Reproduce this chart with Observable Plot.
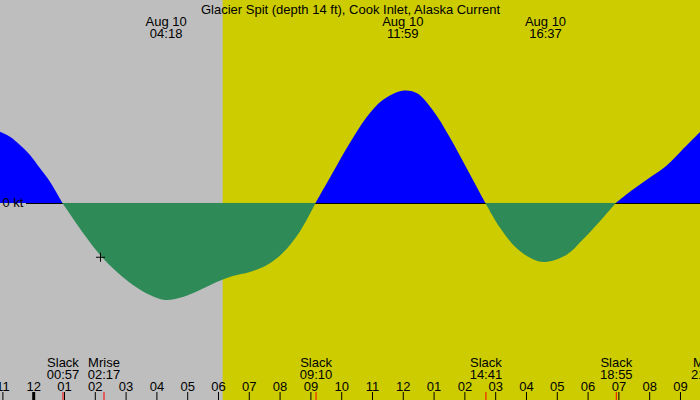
<!DOCTYPE html>
<html>
<head>
<meta charset="utf-8">
<script src="https://cdn.jsdelivr.net/npm/d3@7"></script>
<script src="https://cdn.jsdelivr.net/npm/@observablehq/plot@0.6"></script>
<style>
  html, body { margin: 0; padding: 0; background: #bebebe; }
  svg { display: block; }
</style>
</head>
<body>
<div id="chart"></div>
<script>
// Current (kt) vs hours after midnight, Aug 10
const hours = [-1.078, -0.753, -0.429, -0.104, 0.221, 0.545, 0.95, 1.62, 2.17, 2.72, 3.24, 3.79, 4.3, 4.86, 5.41, 5.96, 6.48, 7.03, 7.59, 8.10, 8.65, 9.167, 9.72, 10.28, 10.83, 11.35, 11.983, 12.45, 12.97, 13.52, 14.07, 14.683, 15.14, 15.69, 16.21, 16.617, 17.31, 17.83, 18.38, 18.917, 19.45, 20.0, 20.55, 21.07, 21.65];
const knots = [1.273, 1.184, 1.036, 0.857, 0.619, 0.380, 0, -0.536, -0.929, -1.232, -1.464, -1.643, -1.732, -1.679, -1.554, -1.411, -1.304, -1.232, -1.107, -0.893, -0.518, 0, 0.536, 1.071, 1.536, 1.839, 2.005, 1.964, 1.661, 1.179, 0.625, 0, -0.429, -0.804, -1.0, -1.054, -0.929, -0.661, -0.339, 0, 0.232, 0.446, 0.661, 0.946, 1.268];

// Events at the bottom
const eventHours = [0.95, 2.283, 9.167, 14.683, 18.917, 21.867];
const eventNames = ["Slack", "Mrise", "Slack", "Slack", "Slack", "Mset"];
const eventTimes = ["00:57", "02:17", "09:10", "14:41", "18:55", "21:52"];

// Max current events at the top
const maxHours = [4.3, 11.983, 16.617];
const maxDates = ["Aug 10", "Aug 10", "Aug 10"];
const maxTimes = ["04:18", "11:59", "16:37"];

// Daylight
const sunriseHour = 6.15;
const xDomain = [-1.078, 21.65];
const yDomain = [-3.518, 3.625];

// Hour ticks
const tickHours = d3.range(-1, 22);
const fmtHour = h => String(((h % 12) + 12) % 12 || 12).padStart(2, "0");

// Now marker
const nowHour = [2.17];
const nowKnots = [-0.96];

const title = "Glacier Spit (depth 14 ft), Cook Inlet, Alaska Current";

// Split the series into flood / ebb segments at slack (zero) points
const segRows = [];
let seg = 0;
hours.forEach((h, i) => {
  const v = knots[i];
  segRows.push({h, v, seg});
  if (v === 0 && i > 0 && i < hours.length - 1) {
    seg += 1;
    segRows.push({h, v, seg});
  }
});
const segSign = new Map();
for (const r of segRows) if (r.v !== 0) segSign.set(r.seg, Math.sign(r.v));
const floodRows = segRows.filter(r => segSign.get(r.seg) > 0);
const ebbRows = segRows.filter(r => segSign.get(r.seg) < 0);

const events = eventHours.map((h, i) => ({h, name: eventNames[i], time: eventTimes[i]}));
const maxima = maxHours.map((h, i) => ({h, label: maxDates[i] + "\n" + maxTimes[i]}));
const nowPts = nowHour.map((h, i) => ({h, v: nowKnots[i]}));

const crosshair = {
  draw(context, size) {
    const r = Math.sqrt(size / Math.PI);
    context.moveTo(-r, 0); context.lineTo(r, 0);
    context.moveTo(0, -r); context.lineTo(0, r);
  }
};

const font = "'Liberation Sans', Arial, Helvetica, sans-serif";

const chart = Plot.plot({
  width: 700,
  height: 400,
  margin: 0,
  style: {background: "#bebebe", fontFamily: font, color: "black"},
  x: {domain: xDomain, axis: null},
  y: {domain: yDomain, axis: null},
  marks: [
    Plot.barX([{a: sunriseHour, b: xDomain[1]}], {x1: "a", x2: "b", fill: "#cccc00"}),
    Plot.areaY(floodRows, {x: "h", y: "v", z: "seg", fill: "#0000ff", curve: "catmull-rom"}),
    Plot.ruleY([0], {stroke: "black", insetLeft: 26}),
    Plot.areaY(ebbRows, {x: "h", y: "v", z: "seg", fill: "#2e8b57", curve: "catmull-rom"}),
    Plot.text([0], {x: xDomain[0], y: 0, text: () => "0 kt", textAnchor: "start", lineAnchor: "bottom", dx: 2, dy: 4, fontSize: 13, fill: "black"}),
    Plot.text([title], {frameAnchor: "top", text: d => d, lineAnchor: "bottom", dy: 13, fontSize: 13, fill: "black"}),
    Plot.text(maxima, {x: "h", frameAnchor: "top", text: "label", lineAnchor: "bottom", lineHeight: 0.9, dy: 37, fontSize: 13, fill: "black"}),
    Plot.text(events, {x: "h", frameAnchor: "bottom", text: d => d.name + "\n" + d.time, lineAnchor: "bottom", lineHeight: 0.9, dy: -22, fontSize: 13, fill: "black"}),
    Plot.text(tickHours, {x: d => d, frameAnchor: "bottom", text: fmtHour, lineAnchor: "bottom", dy: -10, fontSize: 13, fill: "black"}),
    Plot.ruleX(tickHours, {x: d => d, stroke: "black", insetTop: 392}),
    Plot.ruleX([0], {x: d => d, stroke: "black", strokeWidth: 3, insetTop: 392}),
    Plot.ruleX(events, {x: "h", stroke: "red", insetTop: 392}),
    Plot.dot(nowPts, {x: "h", y: "v", symbol: crosshair, r: 4.5, stroke: "black", fill: "none", strokeWidth: 1})
  ]
});
document.getElementById("chart").appendChild(chart);
</script>
</body>
</html>
